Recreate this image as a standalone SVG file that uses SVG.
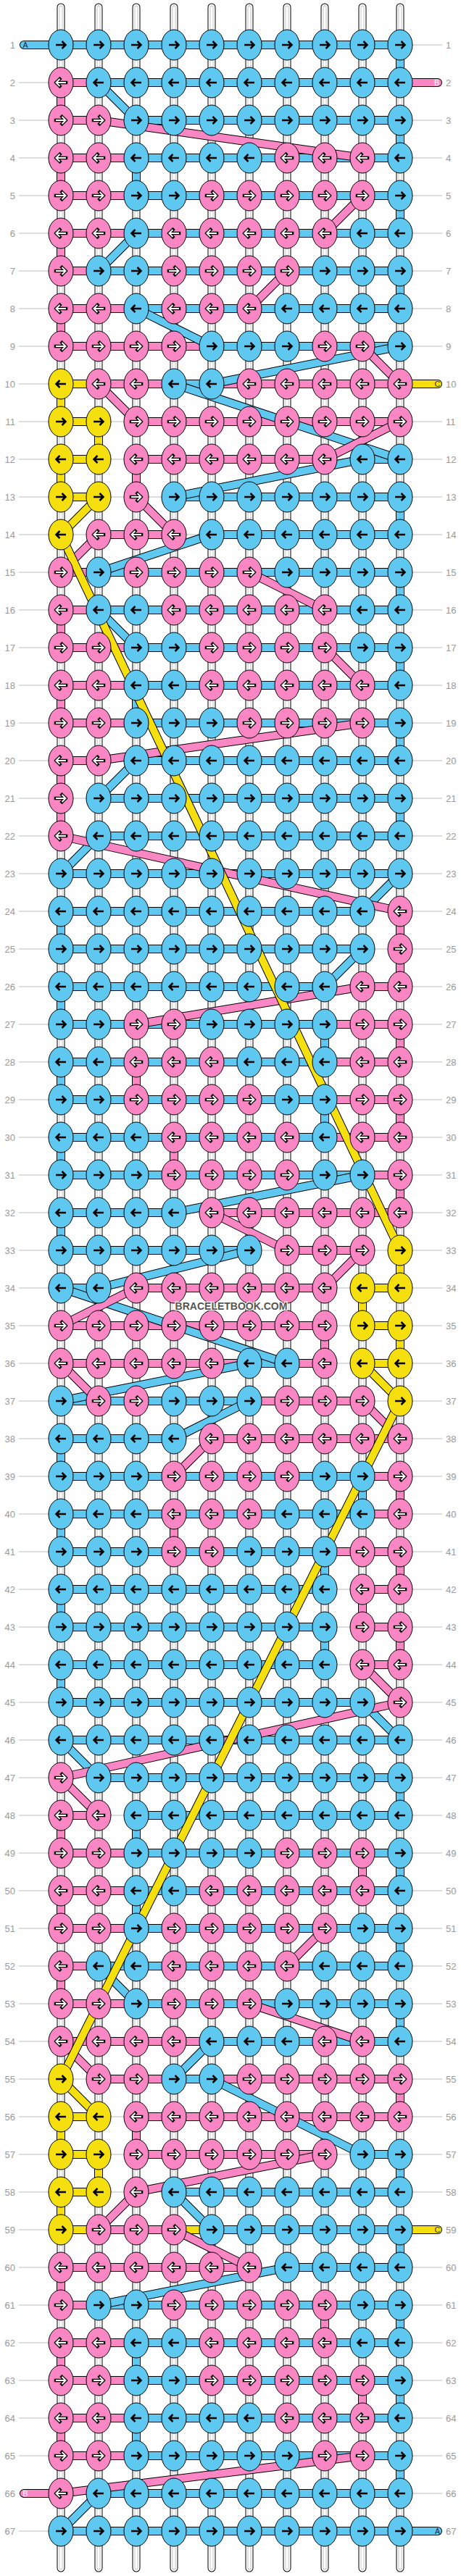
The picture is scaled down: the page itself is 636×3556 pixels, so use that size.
<svg xmlns="http://www.w3.org/2000/svg" width="636" height="3556" viewBox="0 0 636 3556">
<style>
.gl{fill:none;stroke:#bbb;stroke-width:1}
.t1{fill:none;stroke:#000;stroke-width:11;stroke-linecap:round}
.t2{fill:none;stroke:#fff;stroke-width:9;stroke-linecap:round}
.t3{fill:none;stroke:#c4c4c4;stroke-width:5;stroke-linecap:round}
.t4{fill:none;stroke:#fff;stroke-width:3;stroke-linecap:round}
.o{fill:none;stroke:#000;stroke-width:12;stroke-linecap:round;stroke-linejoin:round}
.sb{fill:none;stroke:#5ec8f0;stroke-width:10;stroke-linecap:round;stroke-linejoin:round}
.sp{fill:none;stroke:#fa87c4;stroke-width:10;stroke-linecap:round;stroke-linejoin:round}
.sy{fill:none;stroke:#f5df0f;stroke-width:10;stroke-linecap:round;stroke-linejoin:round}
.kb{fill:#5ec8f0;stroke:#000;stroke-width:1}
.kp{fill:#fa87c4;stroke:#000;stroke-width:1}
.ky{fill:#f5df0f;stroke:#000;stroke-width:1}
.ab{fill:none;stroke:#000;stroke-width:2.5}
.ao{fill:none;stroke:#000;stroke-width:4.5;stroke-linecap:square}
.aw{fill:none;stroke:#fff;stroke-width:2}
.num{font-family:"Liberation Sans",Arial,sans-serif;font-size:13px;fill:#999}
.l{text-anchor:end}
.sl{font-family:"Liberation Sans",Arial,sans-serif;font-size:10.5px}
.wm{font-family:"Liberation Sans",Arial,sans-serif;font-size:14px;font-weight:bold;fill:#555;stroke:#fff;stroke-width:2.5;paint-order:stroke;text-anchor:middle}
</style>
<defs>
<path id="ar" d="M-7,0H6M1.5,-5L6.5,0L1.5,5"/>
<path id="al" d="M7,0H-6M-1.5,-5L-6.5,0L-1.5,5"/>
<g id="BR"><ellipse class="kb" rx="17" ry="21"/><use href="#ar" class="ab"/></g>
<g id="BL"><ellipse class="kb" rx="17" ry="21"/><use href="#al" class="ab"/></g>
<g id="YR"><ellipse class="ky" rx="17" ry="21"/><use href="#ar" class="ab"/></g>
<g id="YL"><ellipse class="ky" rx="17" ry="21"/><use href="#al" class="ab"/></g>
<g id="PR"><ellipse class="kp" rx="17" ry="21"/><use href="#ar" class="ao"/><use href="#ar" class="aw"/></g>
<g id="PL"><ellipse class="kp" rx="17" ry="21"/><use href="#al" class="ao"/><use href="#al" class="aw"/></g>
<path id="tb" d="M84,10V3545M136,10V3545M188,10V3545M240,10V3545M292,10V3545M344,10V3545M396,10V3545M448,10V3545M500,10V3545M552,10V3545"/>
<path id="hY" d="M604,530H84V582H136V634H84V686H136M552,1726V1778H500V1830H552V1882H500M136,2922H84V2974H136V3026H84V3078H604"/>
<path id="hP" d="M604,114H84V166H136M500,218H84V270H500M448,322H84V374H396M344,426H84V478H500M552,530H136M188,582H552M448,634H188V686M240,738H136M84,790H344M448,842H84V894H448M500,946H84V998H500M136,1050H84V1154M552,1258V1362H500M188,1414H552V1466H188V1518H552V1570H240V1622H552V1674H292M396,1726H500M448,1778H188M84,1830H448V1882H84M136,1934H500M552,1986H292M240,2038H552V2090H240V2142H552V2194H500V2246H552V2298H500M136,2506H84V2558H500V2610H84V2662H448M396,2714H84V2766H344M500,2818H84M136,2870H552V2922H188V2974H448M136,3078H240M344,3130H84V3182H448V3234H84V3286H500V3338H84V3390H500M84,3442H33"/>
<path id="hB" d="M33,62H552V114H136M188,166H552V218H188V270H552V322H188M136,374H552V426H188M292,478H552M292,530H240M552,634H500M240,686H552V738H292M136,790H552V842H136M188,894H552V946H188V998H552V1050H188M136,1102H552V1154H136M84,1206H552M500,1258H84V1310H500M448,1362H84V1414H448V1466H84V1518H448V1570H84V1622H500M240,1674H84V1726H344M136,1778H84M396,1882H344M84,1934H344M240,1986H84V2038H500V2090H84V2142H448V2194H84V2246H448V2298H84V2350H500M552,2402H84M136,2454H552V2506H188V2558H552V2610H188V2662H552V2714H136M188,2766H552V2818H292M240,2870H292M500,2974H552V3026H240M292,3078H552V3130H396M136,3182H552V3234H188V3286H552V3338H188V3390H552V3442H136M84,3494H604"/>
<path id="dB" d="M136,114L188,166M188,322L136,374M188,426L292,478M552,478L292,530M240,530L552,634M500,634L240,686M292,738L136,790M136,842L188,894M188,1050L136,1102M136,1154L84,1206M552,1206L500,1258M500,1310L448,1362M500,1622L240,1674M344,1726L136,1778M84,1778L396,1882M344,1882L84,1934M344,1934L240,1986M500,2350L552,2402M84,2402L136,2454M136,2714L188,2766M292,2818L240,2870M292,2870L500,2974M240,3026L292,3078M396,3130L136,3182M136,3442L84,3494"/>
<path id="dP" d="M136,166L500,218M500,270L448,322M396,374L344,426M500,478L552,530M136,530L188,582M552,582L448,634M188,686L240,738M136,738L84,790M344,790L448,842M448,894L500,946M500,998L136,1050M84,1154L552,1258M500,1362L188,1414M292,1674L396,1726M500,1726L448,1778M188,1778L84,1830M84,1882L136,1934M500,1934L552,1986M292,1986L240,2038M500,2298L552,2350L84,2454L136,2506M448,2662L396,2714M344,2766L500,2818M84,2818L136,2870M448,2974L188,3026L136,3078M240,3078L344,3130M500,3390L84,3442"/>
<path id="dY" d="M136,686L84,738L552,1726M500,1882L552,1934L84,2870L136,2922"/>
</defs>
<g id="guides">
<path class="gl" d="M26,62H610M26,114H610M26,166H610M26,218H610M26,270H610M26,322H610M26,374H610M26,426H610M26,478H610M26,530H610M26,582H610M26,634H610M26,686H610M26,738H610M26,790H610M26,842H610M26,894H610M26,946H610M26,998H610M26,1050H610M26,1102H610M26,1154H610M26,1206H610M26,1258H610M26,1310H610M26,1362H610M26,1414H610M26,1466H610M26,1518H610M26,1570H610M26,1622H610M26,1674H610M26,1726H610M26,1778H610M26,1830H610M26,1882H610M26,1934H610M26,1986H610M26,2038H610M26,2090H610M26,2142H610M26,2194H610M26,2246H610M26,2298H610M26,2350H610M26,2402H610M26,2454H610M26,2506H610M26,2558H610M26,2610H610M26,2662H610M26,2714H610M26,2766H610M26,2818H610M26,2870H610M26,2922H610M26,2974H610M26,3026H610M26,3078H610M26,3130H610M26,3182H610M26,3234H610M26,3286H610M26,3338H610M26,3390H610M26,3442H610M26,3494H610"/>
</g>
<g id="connectors">
<g id="warps"><use href="#tb" class="t1"/><use href="#tb" class="t2"/><use href="#tb" class="t3"/><use href="#tb" class="t4"/></g>
<g id="rows-yellow"><use href="#hY" class="o"/><use href="#hY" class="sy"/></g>
<g id="rows-pink"><use href="#hP" class="o"/><use href="#hP" class="sp"/></g>
<g id="rows-blue"><use href="#hB" class="o"/><use href="#hB" class="sb"/></g>
<g id="cross-blue"><use href="#dB" class="o"/><use href="#dB" class="sb"/></g>
<g id="cross-pink"><use href="#dP" class="o"/><use href="#dP" class="sp"/></g>
<g id="cross-yellow"><use href="#dY" class="o"/><use href="#dY" class="sy"/></g>
</g>
<g id="strand-labels" class="sl">
<text x="31.5" y="66" fill="#223">A</text>
<text x="606" y="118" fill="#fff" text-anchor="end">B</text>
<text x="607" y="534" fill="#333" text-anchor="end">C</text>
<text x="607" y="3082" fill="#333" text-anchor="end">C</text>
<text x="31.5" y="3446" fill="#fff">B</text>
<text x="607" y="3498" fill="#223" text-anchor="end">A</text>
</g>
<g id="knots">
<g id="row1" transform="translate(0,62)"><text class="num l" x="21" y="4.5">1</text><text class="num" x="615" y="4.5">1</text><g id="n1-0"><use href="#BR" x="84"/></g><g id="n1-1"><use href="#BR" x="136"/></g><g id="n1-2"><use href="#BR" x="188"/></g><g id="n1-3"><use href="#BR" x="240"/></g><g id="n1-4"><use href="#BR" x="292"/></g><g id="n1-5"><use href="#BR" x="344"/></g><g id="n1-6"><use href="#BR" x="396"/></g><g id="n1-7"><use href="#BR" x="448"/></g><g id="n1-8"><use href="#BR" x="500"/></g><g id="n1-9"><use href="#BR" x="552"/></g></g>
<g id="row2" transform="translate(0,114)"><text class="num l" x="21" y="4.5">2</text><text class="num" x="615" y="4.5">2</text><g id="n2-0"><use href="#PL" x="84"/></g><g id="n2-1"><use href="#BL" x="136"/></g><g id="n2-2"><use href="#BL" x="188"/></g><g id="n2-3"><use href="#BL" x="240"/></g><g id="n2-4"><use href="#BL" x="292"/></g><g id="n2-5"><use href="#BL" x="344"/></g><g id="n2-6"><use href="#BL" x="396"/></g><g id="n2-7"><use href="#BL" x="448"/></g><g id="n2-8"><use href="#BL" x="500"/></g><g id="n2-9"><use href="#BL" x="552"/></g></g>
<g id="row3" transform="translate(0,166)"><text class="num l" x="21" y="4.5">3</text><text class="num" x="615" y="4.5">3</text><g id="n3-0"><use href="#PR" x="84"/></g><g id="n3-1"><use href="#PR" x="136"/></g><g id="n3-2"><use href="#BR" x="188"/></g><g id="n3-3"><use href="#BR" x="240"/></g><g id="n3-4"><use href="#BR" x="292"/></g><g id="n3-5"><use href="#BR" x="344"/></g><g id="n3-6"><use href="#BR" x="396"/></g><g id="n3-7"><use href="#BR" x="448"/></g><g id="n3-8"><use href="#BR" x="500"/></g><g id="n3-9"><use href="#BR" x="552"/></g></g>
<g id="row4" transform="translate(0,218)"><text class="num l" x="21" y="4.5">4</text><text class="num" x="615" y="4.5">4</text><g id="n4-0"><use href="#PL" x="84"/></g><g id="n4-1"><use href="#PL" x="136"/></g><g id="n4-2"><use href="#BL" x="188"/></g><g id="n4-3"><use href="#BL" x="240"/></g><g id="n4-4"><use href="#BL" x="292"/></g><g id="n4-5"><use href="#BL" x="344"/></g><g id="n4-6"><use href="#PL" x="396"/></g><g id="n4-7"><use href="#PL" x="448"/></g><g id="n4-8"><use href="#PL" x="500"/></g><g id="n4-9"><use href="#BL" x="552"/></g></g>
<g id="row5" transform="translate(0,270)"><text class="num l" x="21" y="4.5">5</text><text class="num" x="615" y="4.5">5</text><g id="n5-0"><use href="#PR" x="84"/></g><g id="n5-1"><use href="#PR" x="136"/></g><g id="n5-2"><use href="#BR" x="188"/></g><g id="n5-3"><use href="#BR" x="240"/></g><g id="n5-4"><use href="#PR" x="292"/></g><g id="n5-5"><use href="#PR" x="344"/></g><g id="n5-6"><use href="#PR" x="396"/></g><g id="n5-7"><use href="#PR" x="448"/></g><g id="n5-8"><use href="#PR" x="500"/></g><g id="n5-9"><use href="#BR" x="552"/></g></g>
<g id="row6" transform="translate(0,322)"><text class="num l" x="21" y="4.5">6</text><text class="num" x="615" y="4.5">6</text><g id="n6-0"><use href="#PL" x="84"/></g><g id="n6-1"><use href="#PL" x="136"/></g><g id="n6-2"><use href="#BL" x="188"/></g><g id="n6-3"><use href="#PL" x="240"/></g><g id="n6-4"><use href="#PL" x="292"/></g><g id="n6-5"><use href="#PL" x="344"/></g><g id="n6-6"><use href="#PL" x="396"/></g><g id="n6-7"><use href="#PL" x="448"/></g><g id="n6-8"><use href="#BL" x="500"/></g><g id="n6-9"><use href="#BL" x="552"/></g></g>
<g id="row7" transform="translate(0,374)"><text class="num l" x="21" y="4.5">7</text><text class="num" x="615" y="4.5">7</text><g id="n7-0"><use href="#PR" x="84"/></g><g id="n7-1"><use href="#BR" x="136"/></g><g id="n7-2"><use href="#BR" x="188"/></g><g id="n7-3"><use href="#PR" x="240"/></g><g id="n7-4"><use href="#PR" x="292"/></g><g id="n7-5"><use href="#PR" x="344"/></g><g id="n7-6"><use href="#PR" x="396"/></g><g id="n7-7"><use href="#BR" x="448"/></g><g id="n7-8"><use href="#BR" x="500"/></g><g id="n7-9"><use href="#BR" x="552"/></g></g>
<g id="row8" transform="translate(0,426)"><text class="num l" x="21" y="4.5">8</text><text class="num" x="615" y="4.5">8</text><g id="n8-0"><use href="#PL" x="84"/></g><g id="n8-1"><use href="#PL" x="136"/></g><g id="n8-2"><use href="#BL" x="188"/></g><g id="n8-3"><use href="#PL" x="240"/></g><g id="n8-4"><use href="#PL" x="292"/></g><g id="n8-5"><use href="#PL" x="344"/></g><g id="n8-6"><use href="#BL" x="396"/></g><g id="n8-7"><use href="#BL" x="448"/></g><g id="n8-8"><use href="#BL" x="500"/></g><g id="n8-9"><use href="#BL" x="552"/></g></g>
<g id="row9" transform="translate(0,478)"><text class="num l" x="21" y="4.5">9</text><text class="num" x="615" y="4.5">9</text><g id="n9-0"><use href="#PR" x="84"/></g><g id="n9-1"><use href="#PR" x="136"/></g><g id="n9-2"><use href="#PR" x="188"/></g><g id="n9-3"><use href="#PR" x="240"/></g><g id="n9-4"><use href="#BR" x="292"/></g><g id="n9-5"><use href="#BR" x="344"/></g><g id="n9-6"><use href="#BR" x="396"/></g><g id="n9-7"><use href="#PR" x="448"/></g><g id="n9-8"><use href="#PR" x="500"/></g><g id="n9-9"><use href="#BR" x="552"/></g></g>
<g id="row10" transform="translate(0,530)"><text class="num l" x="21" y="4.5">10</text><text class="num" x="615" y="4.5">10</text><g id="n10-0"><use href="#YL" x="84"/></g><g id="n10-1"><use href="#PL" x="136"/></g><g id="n10-2"><use href="#PL" x="188"/></g><g id="n10-3"><use href="#BL" x="240"/></g><g id="n10-4"><use href="#BL" x="292"/></g><g id="n10-5"><use href="#PL" x="344"/></g><g id="n10-6"><use href="#PL" x="396"/></g><g id="n10-7"><use href="#PL" x="448"/></g><g id="n10-8"><use href="#PL" x="500"/></g><g id="n10-9"><use href="#PL" x="552"/></g></g>
<g id="row11" transform="translate(0,582)"><text class="num l" x="21" y="4.5">11</text><text class="num" x="615" y="4.5">11</text><g id="n11-0"><use href="#YR" x="84"/></g><g id="n11-1"><use href="#YR" x="136"/></g><g id="n11-2"><use href="#PR" x="188"/></g><g id="n11-3"><use href="#PR" x="240"/></g><g id="n11-4"><use href="#PR" x="292"/></g><g id="n11-5"><use href="#PR" x="344"/></g><g id="n11-6"><use href="#PR" x="396"/></g><g id="n11-7"><use href="#PR" x="448"/></g><g id="n11-8"><use href="#PR" x="500"/></g><g id="n11-9"><use href="#PR" x="552"/></g></g>
<g id="row12" transform="translate(0,634)"><text class="num l" x="21" y="4.5">12</text><text class="num" x="615" y="4.5">12</text><g id="n12-0"><use href="#YL" x="84"/></g><g id="n12-1"><use href="#YL" x="136"/></g><g id="n12-2"><use href="#PL" x="188"/></g><g id="n12-3"><use href="#PL" x="240"/></g><g id="n12-4"><use href="#PL" x="292"/></g><g id="n12-5"><use href="#PL" x="344"/></g><g id="n12-6"><use href="#PL" x="396"/></g><g id="n12-7"><use href="#PL" x="448"/></g><g id="n12-8"><use href="#BL" x="500"/></g><g id="n12-9"><use href="#BL" x="552"/></g></g>
<g id="row13" transform="translate(0,686)"><text class="num l" x="21" y="4.5">13</text><text class="num" x="615" y="4.5">13</text><g id="n13-0"><use href="#YR" x="84"/></g><g id="n13-1"><use href="#YR" x="136"/></g><g id="n13-2"><use href="#PR" x="188"/></g><g id="n13-3"><use href="#BR" x="240"/></g><g id="n13-4"><use href="#BR" x="292"/></g><g id="n13-5"><use href="#BR" x="344"/></g><g id="n13-6"><use href="#BR" x="396"/></g><g id="n13-7"><use href="#BR" x="448"/></g><g id="n13-8"><use href="#BR" x="500"/></g><g id="n13-9"><use href="#BR" x="552"/></g></g>
<g id="row14" transform="translate(0,738)"><text class="num l" x="21" y="4.5">14</text><text class="num" x="615" y="4.5">14</text><g id="n14-0"><use href="#YL" x="84"/></g><g id="n14-1"><use href="#PL" x="136"/></g><g id="n14-2"><use href="#PL" x="188"/></g><g id="n14-3"><use href="#PL" x="240"/></g><g id="n14-4"><use href="#BL" x="292"/></g><g id="n14-5"><use href="#BL" x="344"/></g><g id="n14-6"><use href="#BL" x="396"/></g><g id="n14-7"><use href="#BL" x="448"/></g><g id="n14-8"><use href="#BL" x="500"/></g><g id="n14-9"><use href="#BL" x="552"/></g></g>
<g id="row15" transform="translate(0,790)"><text class="num l" x="21" y="4.5">15</text><text class="num" x="615" y="4.5">15</text><g id="n15-0"><use href="#PR" x="84"/></g><g id="n15-1"><use href="#BR" x="136"/></g><g id="n15-2"><use href="#PR" x="188"/></g><g id="n15-3"><use href="#PR" x="240"/></g><g id="n15-4"><use href="#PR" x="292"/></g><g id="n15-5"><use href="#PR" x="344"/></g><g id="n15-6"><use href="#BR" x="396"/></g><g id="n15-7"><use href="#BR" x="448"/></g><g id="n15-8"><use href="#BR" x="500"/></g><g id="n15-9"><use href="#BR" x="552"/></g></g>
<g id="row16" transform="translate(0,842)"><text class="num l" x="21" y="4.5">16</text><text class="num" x="615" y="4.5">16</text><g id="n16-0"><use href="#PL" x="84"/></g><g id="n16-1"><use href="#BL" x="136"/></g><g id="n16-2"><use href="#BL" x="188"/></g><g id="n16-3"><use href="#PL" x="240"/></g><g id="n16-4"><use href="#PL" x="292"/></g><g id="n16-5"><use href="#PL" x="344"/></g><g id="n16-6"><use href="#PL" x="396"/></g><g id="n16-7"><use href="#PL" x="448"/></g><g id="n16-8"><use href="#BL" x="500"/></g><g id="n16-9"><use href="#BL" x="552"/></g></g>
<g id="row17" transform="translate(0,894)"><text class="num l" x="21" y="4.5">17</text><text class="num" x="615" y="4.5">17</text><g id="n17-0"><use href="#PR" x="84"/></g><g id="n17-1"><use href="#PR" x="136"/></g><g id="n17-2"><use href="#BR" x="188"/></g><g id="n17-3"><use href="#BR" x="240"/></g><g id="n17-4"><use href="#PR" x="292"/></g><g id="n17-5"><use href="#PR" x="344"/></g><g id="n17-6"><use href="#PR" x="396"/></g><g id="n17-7"><use href="#PR" x="448"/></g><g id="n17-8"><use href="#BR" x="500"/></g><g id="n17-9"><use href="#BR" x="552"/></g></g>
<g id="row18" transform="translate(0,946)"><text class="num l" x="21" y="4.5">18</text><text class="num" x="615" y="4.5">18</text><g id="n18-0"><use href="#PL" x="84"/></g><g id="n18-1"><use href="#PL" x="136"/></g><g id="n18-2"><use href="#BL" x="188"/></g><g id="n18-3"><use href="#BL" x="240"/></g><g id="n18-4"><use href="#PL" x="292"/></g><g id="n18-5"><use href="#PL" x="344"/></g><g id="n18-6"><use href="#PL" x="396"/></g><g id="n18-7"><use href="#PL" x="448"/></g><g id="n18-8"><use href="#PL" x="500"/></g><g id="n18-9"><use href="#BL" x="552"/></g></g>
<g id="row19" transform="translate(0,998)"><text class="num l" x="21" y="4.5">19</text><text class="num" x="615" y="4.5">19</text><g id="n19-0"><use href="#PR" x="84"/></g><g id="n19-1"><use href="#PR" x="136"/></g><g id="n19-2"><use href="#BR" x="188"/></g><g id="n19-3"><use href="#BR" x="240"/></g><g id="n19-4"><use href="#BR" x="292"/></g><g id="n19-5"><use href="#PR" x="344"/></g><g id="n19-6"><use href="#PR" x="396"/></g><g id="n19-7"><use href="#PR" x="448"/></g><g id="n19-8"><use href="#PR" x="500"/></g><g id="n19-9"><use href="#BR" x="552"/></g></g>
<g id="row20" transform="translate(0,1050)"><text class="num l" x="21" y="4.5">20</text><text class="num" x="615" y="4.5">20</text><g id="n20-0"><use href="#PL" x="84"/></g><g id="n20-1"><use href="#PL" x="136"/></g><g id="n20-2"><use href="#BL" x="188"/></g><g id="n20-3"><use href="#BL" x="240"/></g><g id="n20-4"><use href="#BL" x="292"/></g><g id="n20-5"><use href="#BL" x="344"/></g><g id="n20-6"><use href="#BL" x="396"/></g><g id="n20-7"><use href="#BL" x="448"/></g><g id="n20-8"><use href="#BL" x="500"/></g><g id="n20-9"><use href="#BL" x="552"/></g></g>
<g id="row21" transform="translate(0,1102)"><text class="num l" x="21" y="4.5">21</text><text class="num" x="615" y="4.5">21</text><g id="n21-0"><use href="#PR" x="84"/></g><g id="n21-1"><use href="#BR" x="136"/></g><g id="n21-2"><use href="#BR" x="188"/></g><g id="n21-3"><use href="#BR" x="240"/></g><g id="n21-4"><use href="#BR" x="292"/></g><g id="n21-5"><use href="#BR" x="344"/></g><g id="n21-6"><use href="#BR" x="396"/></g><g id="n21-7"><use href="#BR" x="448"/></g><g id="n21-8"><use href="#BR" x="500"/></g><g id="n21-9"><use href="#BR" x="552"/></g></g>
<g id="row22" transform="translate(0,1154)"><text class="num l" x="21" y="4.5">22</text><text class="num" x="615" y="4.5">22</text><g id="n22-0"><use href="#PL" x="84"/></g><g id="n22-1"><use href="#BL" x="136"/></g><g id="n22-2"><use href="#BL" x="188"/></g><g id="n22-3"><use href="#BL" x="240"/></g><g id="n22-4"><use href="#BL" x="292"/></g><g id="n22-5"><use href="#BL" x="344"/></g><g id="n22-6"><use href="#BL" x="396"/></g><g id="n22-7"><use href="#BL" x="448"/></g><g id="n22-8"><use href="#BL" x="500"/></g><g id="n22-9"><use href="#BL" x="552"/></g></g>
<g id="row23" transform="translate(0,1206)"><text class="num l" x="21" y="4.5">23</text><text class="num" x="615" y="4.5">23</text><g id="n23-0"><use href="#BR" x="84"/></g><g id="n23-1"><use href="#BR" x="136"/></g><g id="n23-2"><use href="#BR" x="188"/></g><g id="n23-3"><use href="#BR" x="240"/></g><g id="n23-4"><use href="#BR" x="292"/></g><g id="n23-5"><use href="#BR" x="344"/></g><g id="n23-6"><use href="#BR" x="396"/></g><g id="n23-7"><use href="#BR" x="448"/></g><g id="n23-8"><use href="#BR" x="500"/></g><g id="n23-9"><use href="#BR" x="552"/></g></g>
<g id="row24" transform="translate(0,1258)"><text class="num l" x="21" y="4.5">24</text><text class="num" x="615" y="4.5">24</text><g id="n24-0"><use href="#BL" x="84"/></g><g id="n24-1"><use href="#BL" x="136"/></g><g id="n24-2"><use href="#BL" x="188"/></g><g id="n24-3"><use href="#BL" x="240"/></g><g id="n24-4"><use href="#BL" x="292"/></g><g id="n24-5"><use href="#BL" x="344"/></g><g id="n24-6"><use href="#BL" x="396"/></g><g id="n24-7"><use href="#BL" x="448"/></g><g id="n24-8"><use href="#BL" x="500"/></g><g id="n24-9"><use href="#PL" x="552"/></g></g>
<g id="row25" transform="translate(0,1310)"><text class="num l" x="21" y="4.5">25</text><text class="num" x="615" y="4.5">25</text><g id="n25-0"><use href="#BR" x="84"/></g><g id="n25-1"><use href="#BR" x="136"/></g><g id="n25-2"><use href="#BR" x="188"/></g><g id="n25-3"><use href="#BR" x="240"/></g><g id="n25-4"><use href="#BR" x="292"/></g><g id="n25-5"><use href="#BR" x="344"/></g><g id="n25-6"><use href="#BR" x="396"/></g><g id="n25-7"><use href="#BR" x="448"/></g><g id="n25-8"><use href="#BR" x="500"/></g><g id="n25-9"><use href="#PR" x="552"/></g></g>
<g id="row26" transform="translate(0,1362)"><text class="num l" x="21" y="4.5">26</text><text class="num" x="615" y="4.5">26</text><g id="n26-0"><use href="#BL" x="84"/></g><g id="n26-1"><use href="#BL" x="136"/></g><g id="n26-2"><use href="#BL" x="188"/></g><g id="n26-3"><use href="#BL" x="240"/></g><g id="n26-4"><use href="#BL" x="292"/></g><g id="n26-5"><use href="#BL" x="344"/></g><g id="n26-6"><use href="#BL" x="396"/></g><g id="n26-7"><use href="#BL" x="448"/></g><g id="n26-8"><use href="#PL" x="500"/></g><g id="n26-9"><use href="#PL" x="552"/></g></g>
<g id="row27" transform="translate(0,1414)"><text class="num l" x="21" y="4.5">27</text><text class="num" x="615" y="4.5">27</text><g id="n27-0"><use href="#BR" x="84"/></g><g id="n27-1"><use href="#BR" x="136"/></g><g id="n27-2"><use href="#PR" x="188"/></g><g id="n27-3"><use href="#PR" x="240"/></g><g id="n27-4"><use href="#BR" x="292"/></g><g id="n27-5"><use href="#BR" x="344"/></g><g id="n27-6"><use href="#BR" x="396"/></g><g id="n27-7"><use href="#BR" x="448"/></g><g id="n27-8"><use href="#PR" x="500"/></g><g id="n27-9"><use href="#PR" x="552"/></g></g>
<g id="row28" transform="translate(0,1466)"><text class="num l" x="21" y="4.5">28</text><text class="num" x="615" y="4.5">28</text><g id="n28-0"><use href="#BL" x="84"/></g><g id="n28-1"><use href="#BL" x="136"/></g><g id="n28-2"><use href="#PL" x="188"/></g><g id="n28-3"><use href="#PL" x="240"/></g><g id="n28-4"><use href="#PL" x="292"/></g><g id="n28-5"><use href="#BL" x="344"/></g><g id="n28-6"><use href="#BL" x="396"/></g><g id="n28-7"><use href="#BL" x="448"/></g><g id="n28-8"><use href="#PL" x="500"/></g><g id="n28-9"><use href="#PL" x="552"/></g></g>
<g id="row29" transform="translate(0,1518)"><text class="num l" x="21" y="4.5">29</text><text class="num" x="615" y="4.5">29</text><g id="n29-0"><use href="#BR" x="84"/></g><g id="n29-1"><use href="#BR" x="136"/></g><g id="n29-2"><use href="#PR" x="188"/></g><g id="n29-3"><use href="#PR" x="240"/></g><g id="n29-4"><use href="#PR" x="292"/></g><g id="n29-5"><use href="#PR" x="344"/></g><g id="n29-6"><use href="#BR" x="396"/></g><g id="n29-7"><use href="#BR" x="448"/></g><g id="n29-8"><use href="#PR" x="500"/></g><g id="n29-9"><use href="#PR" x="552"/></g></g>
<g id="row30" transform="translate(0,1570)"><text class="num l" x="21" y="4.5">30</text><text class="num" x="615" y="4.5">30</text><g id="n30-0"><use href="#BL" x="84"/></g><g id="n30-1"><use href="#BL" x="136"/></g><g id="n30-2"><use href="#BL" x="188"/></g><g id="n30-3"><use href="#PL" x="240"/></g><g id="n30-4"><use href="#PL" x="292"/></g><g id="n30-5"><use href="#PL" x="344"/></g><g id="n30-6"><use href="#PL" x="396"/></g><g id="n30-7"><use href="#BL" x="448"/></g><g id="n30-8"><use href="#PL" x="500"/></g><g id="n30-9"><use href="#PL" x="552"/></g></g>
<g id="row31" transform="translate(0,1622)"><text class="num l" x="21" y="4.5">31</text><text class="num" x="615" y="4.5">31</text><g id="n31-0"><use href="#BR" x="84"/></g><g id="n31-1"><use href="#BR" x="136"/></g><g id="n31-2"><use href="#BR" x="188"/></g><g id="n31-3"><use href="#PR" x="240"/></g><g id="n31-4"><use href="#PR" x="292"/></g><g id="n31-5"><use href="#PR" x="344"/></g><g id="n31-6"><use href="#PR" x="396"/></g><g id="n31-7"><use href="#BR" x="448"/></g><g id="n31-8"><use href="#BR" x="500"/></g><g id="n31-9"><use href="#PR" x="552"/></g></g>
<g id="row32" transform="translate(0,1674)"><text class="num l" x="21" y="4.5">32</text><text class="num" x="615" y="4.5">32</text><g id="n32-0"><use href="#BL" x="84"/></g><g id="n32-1"><use href="#BL" x="136"/></g><g id="n32-2"><use href="#BL" x="188"/></g><g id="n32-3"><use href="#BL" x="240"/></g><g id="n32-4"><use href="#PL" x="292"/></g><g id="n32-5"><use href="#PL" x="344"/></g><g id="n32-6"><use href="#PL" x="396"/></g><g id="n32-7"><use href="#PL" x="448"/></g><g id="n32-8"><use href="#PL" x="500"/></g><g id="n32-9"><use href="#PL" x="552"/></g></g>
<g id="row33" transform="translate(0,1726)"><text class="num l" x="21" y="4.5">33</text><text class="num" x="615" y="4.5">33</text><g id="n33-0"><use href="#BR" x="84"/></g><g id="n33-1"><use href="#BR" x="136"/></g><g id="n33-2"><use href="#BR" x="188"/></g><g id="n33-3"><use href="#BR" x="240"/></g><g id="n33-4"><use href="#BR" x="292"/></g><g id="n33-5"><use href="#BR" x="344"/></g><g id="n33-6"><use href="#PR" x="396"/></g><g id="n33-7"><use href="#PR" x="448"/></g><g id="n33-8"><use href="#PR" x="500"/></g><g id="n33-9"><use href="#YR" x="552"/></g></g>
<g id="row34" transform="translate(0,1778)"><text class="num l" x="21" y="4.5">34</text><text class="num" x="615" y="4.5">34</text><g id="n34-0"><use href="#BL" x="84"/></g><g id="n34-1"><use href="#BL" x="136"/></g><g id="n34-2"><use href="#PL" x="188"/></g><g id="n34-3"><use href="#PL" x="240"/></g><g id="n34-4"><use href="#PL" x="292"/></g><g id="n34-5"><use href="#PL" x="344"/></g><g id="n34-6"><use href="#PL" x="396"/></g><g id="n34-7"><use href="#PL" x="448"/></g><g id="n34-8"><use href="#YL" x="500"/></g><g id="n34-9"><use href="#YL" x="552"/></g></g>
<g id="row35" transform="translate(0,1830)"><text class="num l" x="21" y="4.5">35</text><text class="num" x="615" y="4.5">35</text><g id="n35-0"><use href="#PR" x="84"/></g><g id="n35-1"><use href="#PR" x="136"/></g><g id="n35-2"><use href="#PR" x="188"/></g><g id="n35-3"><use href="#PR" x="240"/></g><g id="n35-4"><use href="#PR" x="292"/></g><g id="n35-5"><use href="#PR" x="344"/></g><g id="n35-6"><use href="#PR" x="396"/></g><g id="n35-7"><use href="#PR" x="448"/></g><g id="n35-8"><use href="#YR" x="500"/></g><g id="n35-9"><use href="#YR" x="552"/></g></g>
<g id="row36" transform="translate(0,1882)"><text class="num l" x="21" y="4.5">36</text><text class="num" x="615" y="4.5">36</text><g id="n36-0"><use href="#PL" x="84"/></g><g id="n36-1"><use href="#PL" x="136"/></g><g id="n36-2"><use href="#PL" x="188"/></g><g id="n36-3"><use href="#PL" x="240"/></g><g id="n36-4"><use href="#PL" x="292"/></g><g id="n36-5"><use href="#BL" x="344"/></g><g id="n36-6"><use href="#BL" x="396"/></g><g id="n36-7"><use href="#PL" x="448"/></g><g id="n36-8"><use href="#YL" x="500"/></g><g id="n36-9"><use href="#YL" x="552"/></g></g>
<g id="row37" transform="translate(0,1934)"><text class="num l" x="21" y="4.5">37</text><text class="num" x="615" y="4.5">37</text><g id="n37-0"><use href="#BR" x="84"/></g><g id="n37-1"><use href="#PR" x="136"/></g><g id="n37-2"><use href="#PR" x="188"/></g><g id="n37-3"><use href="#BR" x="240"/></g><g id="n37-4"><use href="#BR" x="292"/></g><g id="n37-5"><use href="#BR" x="344"/></g><g id="n37-6"><use href="#PR" x="396"/></g><g id="n37-7"><use href="#PR" x="448"/></g><g id="n37-8"><use href="#PR" x="500"/></g><g id="n37-9"><use href="#YR" x="552"/></g></g>
<g id="row38" transform="translate(0,1986)"><text class="num l" x="21" y="4.5">38</text><text class="num" x="615" y="4.5">38</text><g id="n38-0"><use href="#BL" x="84"/></g><g id="n38-1"><use href="#BL" x="136"/></g><g id="n38-2"><use href="#BL" x="188"/></g><g id="n38-3"><use href="#BL" x="240"/></g><g id="n38-4"><use href="#PL" x="292"/></g><g id="n38-5"><use href="#PL" x="344"/></g><g id="n38-6"><use href="#PL" x="396"/></g><g id="n38-7"><use href="#PL" x="448"/></g><g id="n38-8"><use href="#PL" x="500"/></g><g id="n38-9"><use href="#PL" x="552"/></g></g>
<g id="row39" transform="translate(0,2038)"><text class="num l" x="21" y="4.5">39</text><text class="num" x="615" y="4.5">39</text><g id="n39-0"><use href="#BR" x="84"/></g><g id="n39-1"><use href="#BR" x="136"/></g><g id="n39-2"><use href="#BR" x="188"/></g><g id="n39-3"><use href="#PR" x="240"/></g><g id="n39-4"><use href="#PR" x="292"/></g><g id="n39-5"><use href="#PR" x="344"/></g><g id="n39-6"><use href="#PR" x="396"/></g><g id="n39-7"><use href="#BR" x="448"/></g><g id="n39-8"><use href="#BR" x="500"/></g><g id="n39-9"><use href="#PR" x="552"/></g></g>
<g id="row40" transform="translate(0,2090)"><text class="num l" x="21" y="4.5">40</text><text class="num" x="615" y="4.5">40</text><g id="n40-0"><use href="#BL" x="84"/></g><g id="n40-1"><use href="#BL" x="136"/></g><g id="n40-2"><use href="#BL" x="188"/></g><g id="n40-3"><use href="#PL" x="240"/></g><g id="n40-4"><use href="#PL" x="292"/></g><g id="n40-5"><use href="#PL" x="344"/></g><g id="n40-6"><use href="#BL" x="396"/></g><g id="n40-7"><use href="#BL" x="448"/></g><g id="n40-8"><use href="#BL" x="500"/></g><g id="n40-9"><use href="#PL" x="552"/></g></g>
<g id="row41" transform="translate(0,2142)"><text class="num l" x="21" y="4.5">41</text><text class="num" x="615" y="4.5">41</text><g id="n41-0"><use href="#BR" x="84"/></g><g id="n41-1"><use href="#BR" x="136"/></g><g id="n41-2"><use href="#BR" x="188"/></g><g id="n41-3"><use href="#PR" x="240"/></g><g id="n41-4"><use href="#PR" x="292"/></g><g id="n41-5"><use href="#BR" x="344"/></g><g id="n41-6"><use href="#BR" x="396"/></g><g id="n41-7"><use href="#BR" x="448"/></g><g id="n41-8"><use href="#PR" x="500"/></g><g id="n41-9"><use href="#PR" x="552"/></g></g>
<g id="row42" transform="translate(0,2194)"><text class="num l" x="21" y="4.5">42</text><text class="num" x="615" y="4.5">42</text><g id="n42-0"><use href="#BL" x="84"/></g><g id="n42-1"><use href="#BL" x="136"/></g><g id="n42-2"><use href="#BL" x="188"/></g><g id="n42-3"><use href="#BL" x="240"/></g><g id="n42-4"><use href="#BL" x="292"/></g><g id="n42-5"><use href="#BL" x="344"/></g><g id="n42-6"><use href="#BL" x="396"/></g><g id="n42-7"><use href="#BL" x="448"/></g><g id="n42-8"><use href="#PL" x="500"/></g><g id="n42-9"><use href="#PL" x="552"/></g></g>
<g id="row43" transform="translate(0,2246)"><text class="num l" x="21" y="4.5">43</text><text class="num" x="615" y="4.5">43</text><g id="n43-0"><use href="#BR" x="84"/></g><g id="n43-1"><use href="#BR" x="136"/></g><g id="n43-2"><use href="#BR" x="188"/></g><g id="n43-3"><use href="#BR" x="240"/></g><g id="n43-4"><use href="#BR" x="292"/></g><g id="n43-5"><use href="#BR" x="344"/></g><g id="n43-6"><use href="#BR" x="396"/></g><g id="n43-7"><use href="#BR" x="448"/></g><g id="n43-8"><use href="#PR" x="500"/></g><g id="n43-9"><use href="#PR" x="552"/></g></g>
<g id="row44" transform="translate(0,2298)"><text class="num l" x="21" y="4.5">44</text><text class="num" x="615" y="4.5">44</text><g id="n44-0"><use href="#BL" x="84"/></g><g id="n44-1"><use href="#BL" x="136"/></g><g id="n44-2"><use href="#BL" x="188"/></g><g id="n44-3"><use href="#BL" x="240"/></g><g id="n44-4"><use href="#BL" x="292"/></g><g id="n44-5"><use href="#BL" x="344"/></g><g id="n44-6"><use href="#BL" x="396"/></g><g id="n44-7"><use href="#BL" x="448"/></g><g id="n44-8"><use href="#PL" x="500"/></g><g id="n44-9"><use href="#PL" x="552"/></g></g>
<g id="row45" transform="translate(0,2350)"><text class="num l" x="21" y="4.5">45</text><text class="num" x="615" y="4.5">45</text><g id="n45-0"><use href="#BR" x="84"/></g><g id="n45-1"><use href="#BR" x="136"/></g><g id="n45-2"><use href="#BR" x="188"/></g><g id="n45-3"><use href="#BR" x="240"/></g><g id="n45-4"><use href="#BR" x="292"/></g><g id="n45-5"><use href="#BR" x="344"/></g><g id="n45-6"><use href="#BR" x="396"/></g><g id="n45-7"><use href="#BR" x="448"/></g><g id="n45-8"><use href="#BR" x="500"/></g><g id="n45-9"><use href="#PR" x="552"/></g></g>
<g id="row46" transform="translate(0,2402)"><text class="num l" x="21" y="4.5">46</text><text class="num" x="615" y="4.5">46</text><g id="n46-0"><use href="#BL" x="84"/></g><g id="n46-1"><use href="#BL" x="136"/></g><g id="n46-2"><use href="#BL" x="188"/></g><g id="n46-3"><use href="#BL" x="240"/></g><g id="n46-4"><use href="#BL" x="292"/></g><g id="n46-5"><use href="#BL" x="344"/></g><g id="n46-6"><use href="#BL" x="396"/></g><g id="n46-7"><use href="#BL" x="448"/></g><g id="n46-8"><use href="#BL" x="500"/></g><g id="n46-9"><use href="#BL" x="552"/></g></g>
<g id="row47" transform="translate(0,2454)"><text class="num l" x="21" y="4.5">47</text><text class="num" x="615" y="4.5">47</text><g id="n47-0"><use href="#PR" x="84"/></g><g id="n47-1"><use href="#BR" x="136"/></g><g id="n47-2"><use href="#BR" x="188"/></g><g id="n47-3"><use href="#BR" x="240"/></g><g id="n47-4"><use href="#BR" x="292"/></g><g id="n47-5"><use href="#BR" x="344"/></g><g id="n47-6"><use href="#BR" x="396"/></g><g id="n47-7"><use href="#BR" x="448"/></g><g id="n47-8"><use href="#BR" x="500"/></g><g id="n47-9"><use href="#BR" x="552"/></g></g>
<g id="row48" transform="translate(0,2506)"><text class="num l" x="21" y="4.5">48</text><text class="num" x="615" y="4.5">48</text><g id="n48-0"><use href="#PL" x="84"/></g><g id="n48-1"><use href="#PL" x="136"/></g><g id="n48-2"><use href="#BL" x="188"/></g><g id="n48-3"><use href="#BL" x="240"/></g><g id="n48-4"><use href="#BL" x="292"/></g><g id="n48-5"><use href="#BL" x="344"/></g><g id="n48-6"><use href="#BL" x="396"/></g><g id="n48-7"><use href="#BL" x="448"/></g><g id="n48-8"><use href="#BL" x="500"/></g><g id="n48-9"><use href="#BL" x="552"/></g></g>
<g id="row49" transform="translate(0,2558)"><text class="num l" x="21" y="4.5">49</text><text class="num" x="615" y="4.5">49</text><g id="n49-0"><use href="#PR" x="84"/></g><g id="n49-1"><use href="#PR" x="136"/></g><g id="n49-2"><use href="#BR" x="188"/></g><g id="n49-3"><use href="#BR" x="240"/></g><g id="n49-4"><use href="#BR" x="292"/></g><g id="n49-5"><use href="#BR" x="344"/></g><g id="n49-6"><use href="#PR" x="396"/></g><g id="n49-7"><use href="#PR" x="448"/></g><g id="n49-8"><use href="#PR" x="500"/></g><g id="n49-9"><use href="#BR" x="552"/></g></g>
<g id="row50" transform="translate(0,2610)"><text class="num l" x="21" y="4.5">50</text><text class="num" x="615" y="4.5">50</text><g id="n50-0"><use href="#PL" x="84"/></g><g id="n50-1"><use href="#PL" x="136"/></g><g id="n50-2"><use href="#BL" x="188"/></g><g id="n50-3"><use href="#BL" x="240"/></g><g id="n50-4"><use href="#PL" x="292"/></g><g id="n50-5"><use href="#PL" x="344"/></g><g id="n50-6"><use href="#PL" x="396"/></g><g id="n50-7"><use href="#PL" x="448"/></g><g id="n50-8"><use href="#PL" x="500"/></g><g id="n50-9"><use href="#BL" x="552"/></g></g>
<g id="row51" transform="translate(0,2662)"><text class="num l" x="21" y="4.5">51</text><text class="num" x="615" y="4.5">51</text><g id="n51-0"><use href="#PR" x="84"/></g><g id="n51-1"><use href="#PR" x="136"/></g><g id="n51-2"><use href="#BR" x="188"/></g><g id="n51-3"><use href="#PR" x="240"/></g><g id="n51-4"><use href="#PR" x="292"/></g><g id="n51-5"><use href="#PR" x="344"/></g><g id="n51-6"><use href="#PR" x="396"/></g><g id="n51-7"><use href="#PR" x="448"/></g><g id="n51-8"><use href="#BR" x="500"/></g><g id="n51-9"><use href="#BR" x="552"/></g></g>
<g id="row52" transform="translate(0,2714)"><text class="num l" x="21" y="4.5">52</text><text class="num" x="615" y="4.5">52</text><g id="n52-0"><use href="#PL" x="84"/></g><g id="n52-1"><use href="#BL" x="136"/></g><g id="n52-2"><use href="#BL" x="188"/></g><g id="n52-3"><use href="#PL" x="240"/></g><g id="n52-4"><use href="#PL" x="292"/></g><g id="n52-5"><use href="#PL" x="344"/></g><g id="n52-6"><use href="#PL" x="396"/></g><g id="n52-7"><use href="#BL" x="448"/></g><g id="n52-8"><use href="#BL" x="500"/></g><g id="n52-9"><use href="#BL" x="552"/></g></g>
<g id="row53" transform="translate(0,2766)"><text class="num l" x="21" y="4.5">53</text><text class="num" x="615" y="4.5">53</text><g id="n53-0"><use href="#PR" x="84"/></g><g id="n53-1"><use href="#PR" x="136"/></g><g id="n53-2"><use href="#BR" x="188"/></g><g id="n53-3"><use href="#PR" x="240"/></g><g id="n53-4"><use href="#PR" x="292"/></g><g id="n53-5"><use href="#PR" x="344"/></g><g id="n53-6"><use href="#BR" x="396"/></g><g id="n53-7"><use href="#BR" x="448"/></g><g id="n53-8"><use href="#BR" x="500"/></g><g id="n53-9"><use href="#BR" x="552"/></g></g>
<g id="row54" transform="translate(0,2818)"><text class="num l" x="21" y="4.5">54</text><text class="num" x="615" y="4.5">54</text><g id="n54-0"><use href="#PL" x="84"/></g><g id="n54-1"><use href="#PL" x="136"/></g><g id="n54-2"><use href="#PL" x="188"/></g><g id="n54-3"><use href="#PL" x="240"/></g><g id="n54-4"><use href="#BL" x="292"/></g><g id="n54-5"><use href="#BL" x="344"/></g><g id="n54-6"><use href="#BL" x="396"/></g><g id="n54-7"><use href="#PL" x="448"/></g><g id="n54-8"><use href="#PL" x="500"/></g><g id="n54-9"><use href="#BL" x="552"/></g></g>
<g id="row55" transform="translate(0,2870)"><text class="num l" x="21" y="4.5">55</text><text class="num" x="615" y="4.5">55</text><g id="n55-0"><use href="#YR" x="84"/></g><g id="n55-1"><use href="#PR" x="136"/></g><g id="n55-2"><use href="#PR" x="188"/></g><g id="n55-3"><use href="#BR" x="240"/></g><g id="n55-4"><use href="#BR" x="292"/></g><g id="n55-5"><use href="#PR" x="344"/></g><g id="n55-6"><use href="#PR" x="396"/></g><g id="n55-7"><use href="#PR" x="448"/></g><g id="n55-8"><use href="#PR" x="500"/></g><g id="n55-9"><use href="#PR" x="552"/></g></g>
<g id="row56" transform="translate(0,2922)"><text class="num l" x="21" y="4.5">56</text><text class="num" x="615" y="4.5">56</text><g id="n56-0"><use href="#YL" x="84"/></g><g id="n56-1"><use href="#YL" x="136"/></g><g id="n56-2"><use href="#PL" x="188"/></g><g id="n56-3"><use href="#PL" x="240"/></g><g id="n56-4"><use href="#PL" x="292"/></g><g id="n56-5"><use href="#PL" x="344"/></g><g id="n56-6"><use href="#PL" x="396"/></g><g id="n56-7"><use href="#PL" x="448"/></g><g id="n56-8"><use href="#PL" x="500"/></g><g id="n56-9"><use href="#PL" x="552"/></g></g>
<g id="row57" transform="translate(0,2974)"><text class="num l" x="21" y="4.5">57</text><text class="num" x="615" y="4.5">57</text><g id="n57-0"><use href="#YR" x="84"/></g><g id="n57-1"><use href="#YR" x="136"/></g><g id="n57-2"><use href="#PR" x="188"/></g><g id="n57-3"><use href="#PR" x="240"/></g><g id="n57-4"><use href="#PR" x="292"/></g><g id="n57-5"><use href="#PR" x="344"/></g><g id="n57-6"><use href="#PR" x="396"/></g><g id="n57-7"><use href="#PR" x="448"/></g><g id="n57-8"><use href="#BR" x="500"/></g><g id="n57-9"><use href="#BR" x="552"/></g></g>
<g id="row58" transform="translate(0,3026)"><text class="num l" x="21" y="4.5">58</text><text class="num" x="615" y="4.5">58</text><g id="n58-0"><use href="#YL" x="84"/></g><g id="n58-1"><use href="#YL" x="136"/></g><g id="n58-2"><use href="#PL" x="188"/></g><g id="n58-3"><use href="#BL" x="240"/></g><g id="n58-4"><use href="#BL" x="292"/></g><g id="n58-5"><use href="#BL" x="344"/></g><g id="n58-6"><use href="#BL" x="396"/></g><g id="n58-7"><use href="#BL" x="448"/></g><g id="n58-8"><use href="#BL" x="500"/></g><g id="n58-9"><use href="#BL" x="552"/></g></g>
<g id="row59" transform="translate(0,3078)"><text class="num l" x="21" y="4.5">59</text><text class="num" x="615" y="4.5">59</text><g id="n59-0"><use href="#YR" x="84"/></g><g id="n59-1"><use href="#PR" x="136"/></g><g id="n59-2"><use href="#PR" x="188"/></g><g id="n59-3"><use href="#PR" x="240"/></g><g id="n59-4"><use href="#BR" x="292"/></g><g id="n59-5"><use href="#BR" x="344"/></g><g id="n59-6"><use href="#BR" x="396"/></g><g id="n59-7"><use href="#BR" x="448"/></g><g id="n59-8"><use href="#BR" x="500"/></g><g id="n59-9"><use href="#BR" x="552"/></g></g>
<g id="row60" transform="translate(0,3130)"><text class="num l" x="21" y="4.5">60</text><text class="num" x="615" y="4.5">60</text><g id="n60-0"><use href="#PL" x="84"/></g><g id="n60-1"><use href="#PL" x="136"/></g><g id="n60-2"><use href="#PL" x="188"/></g><g id="n60-3"><use href="#PL" x="240"/></g><g id="n60-4"><use href="#PL" x="292"/></g><g id="n60-5"><use href="#PL" x="344"/></g><g id="n60-6"><use href="#BL" x="396"/></g><g id="n60-7"><use href="#BL" x="448"/></g><g id="n60-8"><use href="#BL" x="500"/></g><g id="n60-9"><use href="#BL" x="552"/></g></g>
<g id="row61" transform="translate(0,3182)"><text class="num l" x="21" y="4.5">61</text><text class="num" x="615" y="4.5">61</text><g id="n61-0"><use href="#PR" x="84"/></g><g id="n61-1"><use href="#BR" x="136"/></g><g id="n61-2"><use href="#BR" x="188"/></g><g id="n61-3"><use href="#PR" x="240"/></g><g id="n61-4"><use href="#PR" x="292"/></g><g id="n61-5"><use href="#PR" x="344"/></g><g id="n61-6"><use href="#PR" x="396"/></g><g id="n61-7"><use href="#PR" x="448"/></g><g id="n61-8"><use href="#BR" x="500"/></g><g id="n61-9"><use href="#BR" x="552"/></g></g>
<g id="row62" transform="translate(0,3234)"><text class="num l" x="21" y="4.5">62</text><text class="num" x="615" y="4.5">62</text><g id="n62-0"><use href="#PL" x="84"/></g><g id="n62-1"><use href="#PL" x="136"/></g><g id="n62-2"><use href="#BL" x="188"/></g><g id="n62-3"><use href="#BL" x="240"/></g><g id="n62-4"><use href="#PL" x="292"/></g><g id="n62-5"><use href="#PL" x="344"/></g><g id="n62-6"><use href="#PL" x="396"/></g><g id="n62-7"><use href="#PL" x="448"/></g><g id="n62-8"><use href="#BL" x="500"/></g><g id="n62-9"><use href="#BL" x="552"/></g></g>
<g id="row63" transform="translate(0,3286)"><text class="num l" x="21" y="4.5">63</text><text class="num" x="615" y="4.5">63</text><g id="n63-0"><use href="#PR" x="84"/></g><g id="n63-1"><use href="#PR" x="136"/></g><g id="n63-2"><use href="#BR" x="188"/></g><g id="n63-3"><use href="#BR" x="240"/></g><g id="n63-4"><use href="#PR" x="292"/></g><g id="n63-5"><use href="#PR" x="344"/></g><g id="n63-6"><use href="#PR" x="396"/></g><g id="n63-7"><use href="#PR" x="448"/></g><g id="n63-8"><use href="#PR" x="500"/></g><g id="n63-9"><use href="#BR" x="552"/></g></g>
<g id="row64" transform="translate(0,3338)"><text class="num l" x="21" y="4.5">64</text><text class="num" x="615" y="4.5">64</text><g id="n64-0"><use href="#PL" x="84"/></g><g id="n64-1"><use href="#PL" x="136"/></g><g id="n64-2"><use href="#BL" x="188"/></g><g id="n64-3"><use href="#BL" x="240"/></g><g id="n64-4"><use href="#BL" x="292"/></g><g id="n64-5"><use href="#BL" x="344"/></g><g id="n64-6"><use href="#PL" x="396"/></g><g id="n64-7"><use href="#PL" x="448"/></g><g id="n64-8"><use href="#PL" x="500"/></g><g id="n64-9"><use href="#BL" x="552"/></g></g>
<g id="row65" transform="translate(0,3390)"><text class="num l" x="21" y="4.5">65</text><text class="num" x="615" y="4.5">65</text><g id="n65-0"><use href="#PR" x="84"/></g><g id="n65-1"><use href="#PR" x="136"/></g><g id="n65-2"><use href="#BR" x="188"/></g><g id="n65-3"><use href="#BR" x="240"/></g><g id="n65-4"><use href="#BR" x="292"/></g><g id="n65-5"><use href="#BR" x="344"/></g><g id="n65-6"><use href="#BR" x="396"/></g><g id="n65-7"><use href="#PR" x="448"/></g><g id="n65-8"><use href="#PR" x="500"/></g><g id="n65-9"><use href="#BR" x="552"/></g></g>
<g id="row66" transform="translate(0,3442)"><text class="num l" x="21" y="4.5">66</text><text class="num" x="615" y="4.5">66</text><g id="n66-0"><use href="#PL" x="84"/></g><g id="n66-1"><use href="#BL" x="136"/></g><g id="n66-2"><use href="#BL" x="188"/></g><g id="n66-3"><use href="#BL" x="240"/></g><g id="n66-4"><use href="#BL" x="292"/></g><g id="n66-5"><use href="#BL" x="344"/></g><g id="n66-6"><use href="#BL" x="396"/></g><g id="n66-7"><use href="#BL" x="448"/></g><g id="n66-8"><use href="#BL" x="500"/></g><g id="n66-9"><use href="#BL" x="552"/></g></g>
<g id="row67" transform="translate(0,3494)"><text class="num l" x="21" y="4.5">67</text><text class="num" x="615" y="4.5">67</text><g id="n67-0"><use href="#BR" x="84"/></g><g id="n67-1"><use href="#BR" x="136"/></g><g id="n67-2"><use href="#BR" x="188"/></g><g id="n67-3"><use href="#BR" x="240"/></g><g id="n67-4"><use href="#BR" x="292"/></g><g id="n67-5"><use href="#BR" x="344"/></g><g id="n67-6"><use href="#BR" x="396"/></g><g id="n67-7"><use href="#BR" x="448"/></g><g id="n67-8"><use href="#BR" x="500"/></g><g id="n67-9"><use href="#BR" x="552"/></g></g>
</g>
<text id="watermark" class="wm" x="319" y="1808">BRACELETBOOK.COM</text>
</svg>
